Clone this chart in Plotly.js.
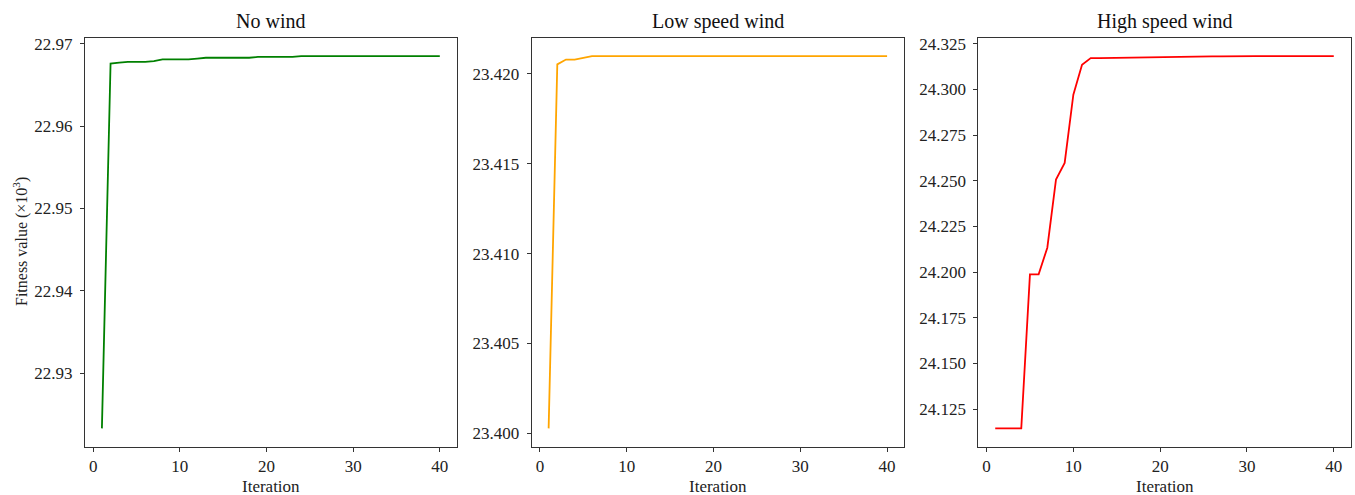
<!DOCTYPE html>
<html>
<head>
<meta charset="utf-8">
<script src="https://cdn.plot.ly/plotly-3.0.1.min.js"></script>
<style>html,body{margin:0;padding:0;background:#fff;}#chart{width:1355px;height:495px;}</style>
</head>
<body>
<div id="chart"></div>
<script>
var iterations = [];
for (var i = 1; i <= 40; i++) iterations.push(i);

var titles = ["No wind", "Low speed wind", "High speed wind"];
var colors = ["#008000", "#FFA500", "#FF0000"];

var noWind = [22.9233, 22.9676, 22.9677, 22.9678, 22.9678, 22.9678, 22.9679, 22.9681, 22.9681, 22.9681,
              22.9681, 22.9682, 22.9683, 22.9683, 22.9683, 22.9683, 22.9683, 22.9683, 22.9684, 22.9684,
              22.9684, 22.9684, 22.9684, 22.9685, 22.9685, 22.9685, 22.9685, 22.9685, 22.9685, 22.9685,
              22.9685, 22.9685, 22.9685, 22.9685, 22.9685, 22.9685, 22.9685, 22.9685, 22.9685, 22.9685];

var lowWind = [23.40028, 23.42052, 23.42079, 23.42079, 23.42088, 23.42098, 23.42098, 23.42098, 23.42098, 23.42098,
               23.42098, 23.42098, 23.42098, 23.42098, 23.42098, 23.42098, 23.42098, 23.42098, 23.42098, 23.42098,
               23.42098, 23.42098, 23.42098, 23.42098, 23.42098, 23.42098, 23.42098, 23.42098, 23.42098, 23.42098,
               23.42098, 23.42098, 23.42098, 23.42098, 23.42098, 23.42098, 23.42098, 23.42098, 23.42098, 23.42098];

var highWind = [24.1144, 24.1144, 24.1144, 24.1144, 24.1987, 24.1987, 24.2133, 24.2506, 24.2597, 24.2971,
                24.3135, 24.3171, 24.3171, 24.3172, 24.3173, 24.3174, 24.3175, 24.3177, 24.3178, 24.3178,
                24.3179, 24.3179, 24.3180, 24.3181, 24.3181, 24.3181, 24.3181, 24.3182, 24.3182, 24.3182,
                24.3182, 24.3182, 24.3182, 24.3182, 24.3182, 24.3182, 24.3182, 24.3182, 24.3182, 24.3182];

var yTickVals = [
  [22.93, 22.94, 22.95, 22.96, 22.97],
  [23.400, 23.405, 23.410, 23.415, 23.420],
  [24.125, 24.150, 24.175, 24.200, 24.225, 24.250, 24.275, 24.300, 24.325]
];
var yTickFormat = [".2f", ".3f", ".3f"];
var xTickVals = [0, 10, 20, 30, 40];

var series = [noWind, lowWind, highWind];

function paddedRange(arr, frac) {
  var mn = Math.min.apply(null, arr), mx = Math.max.apply(null, arr);
  var pad = (mx - mn) * frac;
  return [mn - pad, mx + pad];
}

var W = 1355, H = 495;
var xDomPx = [[85, 456.7], [531.7, 904], [978.3, 1350.7]];
var yDomPx = [37.5, 447];
var yDom = [(H - yDomPx[1]) / H, (H - yDomPx[0]) / H];

var font = "Liberation Serif, Times New Roman, serif";
var traces = [];
var layout = {
  width: W, height: H,
  margin: {l: 0, r: 0, t: 0, b: 0},
  paper_bgcolor: "#fff", plot_bgcolor: "#fff",
  showlegend: false,
  font: {family: font, size: 17, color: "#222"},
  annotations: []
};

for (var k = 0; k < 3; k++) {
  var sx = k === 0 ? "" : String(k + 1);
  traces.push({
    x: iterations, y: series[k], type: "scatter", mode: "lines",
    line: {color: colors[k], width: 1.8},
    xaxis: "x" + sx, yaxis: "y" + sx, hoverinfo: "skip"
  });
  var xd = [xDomPx[k][0] / W, xDomPx[k][1] / W];
  var ax = {
    domain: xd, range: paddedRange(iterations, 0.05),
    tickvals: xTickVals, ticks: "outside", ticklen: 4, tickwidth: 1, tickcolor: "#333",
    showline: true, mirror: true, linecolor: "#333", linewidth: 1,
    showgrid: false, zeroline: false,
    tickfont: {family: font, size: 17, color: "#222"},
    anchor: "y" + sx, fixedrange: true
  };
  var ay = {
    domain: yDom, range: paddedRange(series[k], 0.05),
    tickvals: yTickVals[k], tickformat: yTickFormat[k],
    ticks: "outside", ticklen: 4, tickwidth: 1, tickcolor: "#333",
    ticklabelstandoff: 4,
    showline: true, mirror: true, linecolor: "#333", linewidth: 1,
    showgrid: false, zeroline: false,
    tickfont: {family: font, size: 17, color: "#222"},
    anchor: "x" + sx, fixedrange: true
  };
  layout["xaxis" + sx] = ax;
  layout["yaxis" + sx] = ay;
  var cx = (xd[0] + xd[1]) / 2;
  layout.annotations.push({
    text: titles[k], xref: "paper", yref: "paper", x: cx, y: (H - 21) / H,
    xanchor: "center", yanchor: "middle", showarrow: false,
    font: {family: font, size: 20, color: "#111"}
  });
  layout.annotations.push({
    text: "Iteration", xref: "paper", yref: "paper", x: cx, y: (H - 486) / H,
    xanchor: "center", yanchor: "middle", showarrow: false,
    font: {family: font, size: 17, color: "#222"}
  });
}
layout.annotations.push({
  text: "Fitness value (×10<sup>3</sup>)", xref: "paper", yref: "paper",
  x: 20 / W, y: (H - 242) / H, xanchor: "center", yanchor: "middle",
  textangle: -90, showarrow: false,
  font: {family: font, size: 16, color: "#222"}
});

Plotly.newPlot("chart", traces, layout, {staticPlot: true, displayModeBar: false});
</script>
</body>
</html>
